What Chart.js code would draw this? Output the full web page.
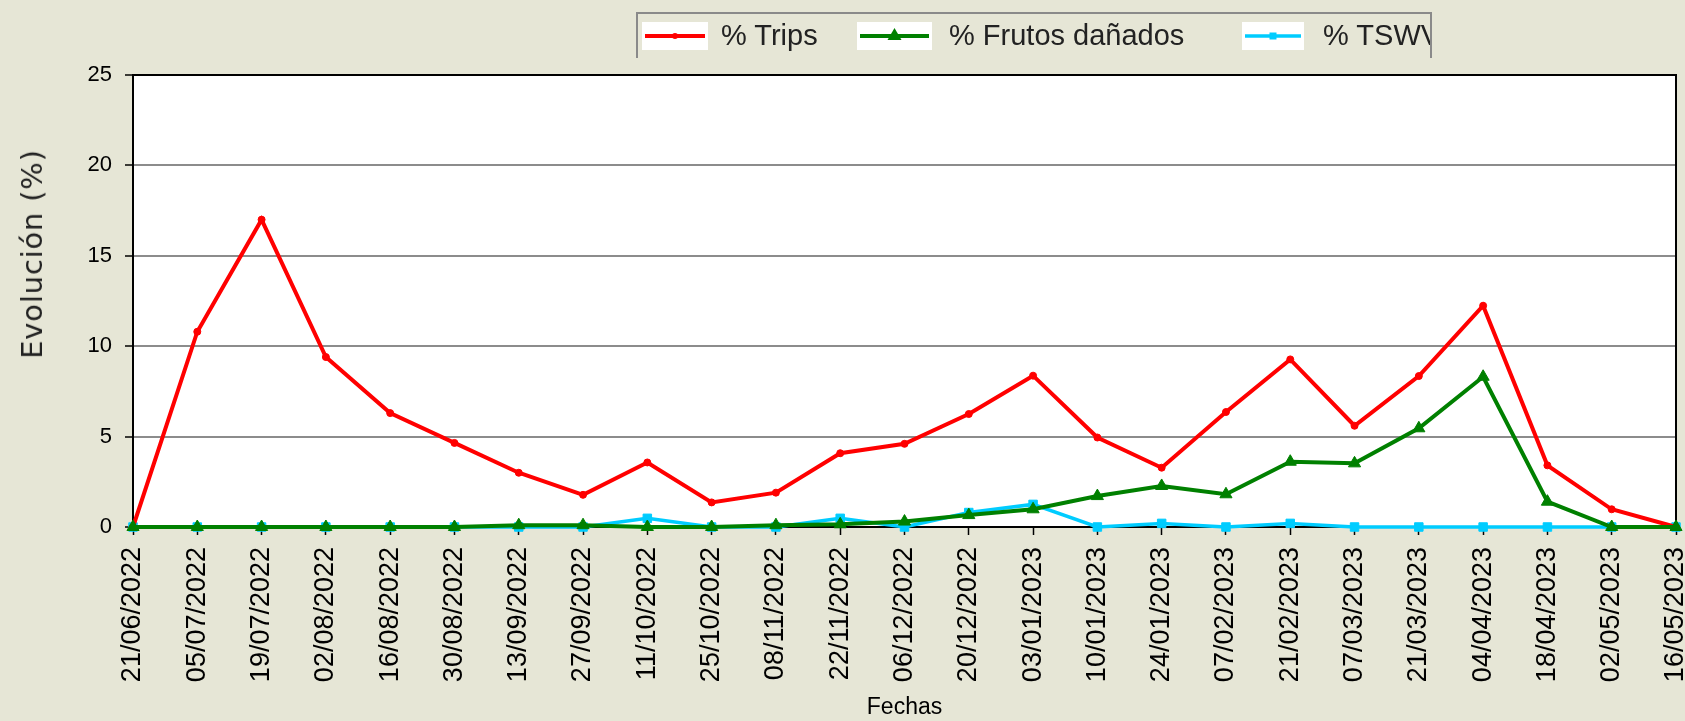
<!DOCTYPE html>
<html>
<head>
<meta charset="utf-8">
<script src="https://cdn.jsdelivr.net/npm/chart.js@4"></script>
<style>
  body { margin: 0; background: #e6e6d6; }
  #wrap { position: relative; width: 1685px; height: 721px; }
  #ytitle {
    position: absolute; left: 32px; top: 254px;
    transform: translate(-50%, -50%) rotate(-90deg);
    font: 29px "DejaVu Sans"; letter-spacing: 0.8px; color: #222; white-space: nowrap;
  }
  #legend {
    position: absolute; left: 636px; top: 12px; width: 792px; height: 44px;
    border: 2px solid #8a8a8a; border-bottom: none; overflow: hidden;
    font: 29px "Liberation Sans"; color: #222; white-space: nowrap;
  }
  .item { position: absolute; top: 6px; height: 32px; line-height: 32px; }
  .item canvas { position: absolute; left: 0; top: 2px; background: #fff; }
  .item span { position: absolute; top: -1px; }
</style>
</head>
<body>
<div id="wrap">
  <canvas id="myChart"></canvas>
  <div id="ytitle">Evolución (%)</div>
  <div id="legend"></div>
</div>
<script>
const fechas = ['21/06/2022','05/07/2022','19/07/2022','02/08/2022','16/08/2022','30/08/2022','13/09/2022','27/09/2022','11/10/2022','25/10/2022','08/11/2022','22/11/2022','06/12/2022','20/12/2022','03/01/2023','10/01/2023','24/01/2023','07/02/2023','21/02/2023','07/03/2023','21/03/2023','04/04/2023','18/04/2023','02/05/2023','16/05/2023'];
const trips = [0, 10.8, 17.0, 9.4, 6.3, 4.65, 3.0, 1.78, 3.57, 1.36, 1.9, 4.08, 4.6, 6.25, 8.37, 4.95, 3.28, 6.36, 9.27, 5.6, 8.35, 12.24, 3.41, 0.98, 0];
const frutos = [0, 0, 0, 0, 0, 0, 0.1, 0.1, 0, 0, 0.1, 0.15, 0.3, 0.66, 0.98, 1.71, 2.27, 1.81, 3.61, 3.52, 5.46, 8.31, 1.4, 0, 0];
const tswv = [0, 0, 0, 0, 0, 0, 0, 0, 0.48, 0, 0, 0.48, 0, 0.8, 1.25, 0, 0.2, 0, 0.2, 0, 0, 0, 0, 0, 0];
const yTicks = [0, 5, 10, 15, 20, 25];

const series = [
    {label: '% Trips', data: trips, color: '#ff0000', style: 'circle', r: 3.5, w: 4, order: 1},
    {label: '% Frutos dañados', data: frutos, color: '#008000', style: 'triangle', r: 7, w: 4, order: 0},
    {label: '% TSWV', data: tswv, color: '#00ccff', style: 'rect', r: 6, w: 3.5, order: 2}
];

// white plot area + black top/right frame
const plotFrame = {
    id: 'plotFrame',
    beforeDraw(chart) {
        const {ctx, chartArea: a} = chart;
        ctx.save();
        ctx.fillStyle = '#ffffff';
        ctx.fillRect(a.left, a.top, a.right - a.left, a.bottom - a.top);
        ctx.restore();
    },
    beforeDatasetsDraw(chart) {
        const {ctx, chartArea: a} = chart;
        ctx.save();
        ctx.strokeStyle = '#000';
        ctx.lineWidth = 2;
        ctx.beginPath();
        ctx.moveTo(a.left, a.top);
        ctx.lineTo(a.right, a.top);
        ctx.lineTo(a.right, a.bottom);
        ctx.stroke();
        ctx.restore();
    }
};

const data = {
    labels: fechas,
    datasets: series.map(s => ({
        label: s.label,
        data: s.data,
        borderColor: s.color,
        backgroundColor: s.color,
        borderWidth: s.w,
        pointStyle: s.style,
        pointRadius: s.r,
        pointBorderWidth: 1,
        tension: 0,
        clip: false,
        order: s.order
    }))
};

const config = {
    type: 'line',
    data: data,
    options: {
        responsive: true,
        maintainAspectRatio: false,
        animation: false,
        layout: {padding: {left: 0, top: 75, right: 9, bottom: 0}},
        plugins: {
            legend: {display: false},
            tooltip: {enabled: false}
        },
        scales: {
            x: {
                offset: false,
                grid: {drawOnChartArea: false, tickLength: 8, tickColor: '#000', tickWidth: 1.5},
                border: {color: '#000', width: 2},
                ticks: {
                    autoSkip: false, maxRotation: 90, minRotation: 90, padding: 12,
                    color: '#000', font: {family: 'Liberation Sans', size: 27}
                },
                title: {display: true, text: 'Fechas', color: '#000', padding: 0,
                        font: {family: 'Liberation Sans', size: 23}},
                afterFit(scale) {
                    scale.height = 194;
                    scale.paddingLeft = 0;
                    scale.paddingRight = 0;
                }
            },
            y: {
                min: 0,
                max: 25,
                afterBuildTicks(scale) {
                    scale.ticks = yTicks.map(v => ({value: v}));
                },
                grid: {
                    color: ctx => (ctx.tick && (ctx.tick.value === 0 || ctx.tick.value === 25)) ? '#000' : '#8c8c8c',
                    lineWidth: 2,
                    tickLength: 8, tickColor: '#000', tickWidth: 1.5
                },
                border: {color: '#000', width: 2},
                ticks: {padding: 13, color: '#000', font: {family: 'Liberation Sans', size: 22}},
                afterFit(scale) {
                    scale.width = 133;
                }
            }
        }
    },
    plugins: [plotFrame]
};
new Chart(document.getElementById('myChart'), config);

// legend with line+marker samples on white boxes
const legendPos = [{box: 4, text: 83}, {box: 219, text: 311}, {box: 604, text: 685}];
const legendBoxW = [66, 75, 62];
const legend = document.getElementById('legend');
series.forEach((s, i) => {
    const item = document.createElement('div');
    item.className = 'item';
    item.style.left = legendPos[i].box + 'px';
    const c = document.createElement('canvas');
    c.width = legendBoxW[i];
    c.height = 28;
    const g = c.getContext('2d');
    g.strokeStyle = s.color;
    g.fillStyle = s.color;
    g.lineWidth = s.w;
    g.beginPath();
    g.moveTo(3, 14);
    g.lineTo(c.width - 3, 14);
    g.stroke();
    const cx = c.width / 2;
    g.beginPath();
    if (s.style === 'circle') g.arc(cx, 14, 3, 0, Math.PI * 2);
    else if (s.style === 'triangle') { g.moveTo(cx, 6); g.lineTo(cx + 7, 18); g.lineTo(cx - 7, 18); g.closePath(); }
    else g.rect(cx - 3.5, 10.5, 7, 7);
    g.fill();
    const t = document.createElement('span');
    t.textContent = s.label;
    t.style.left = (legendPos[i].text - legendPos[i].box) + 'px';
    item.appendChild(c);
    item.appendChild(t);
    legend.appendChild(item);
});
</script>
</body>
</html>
